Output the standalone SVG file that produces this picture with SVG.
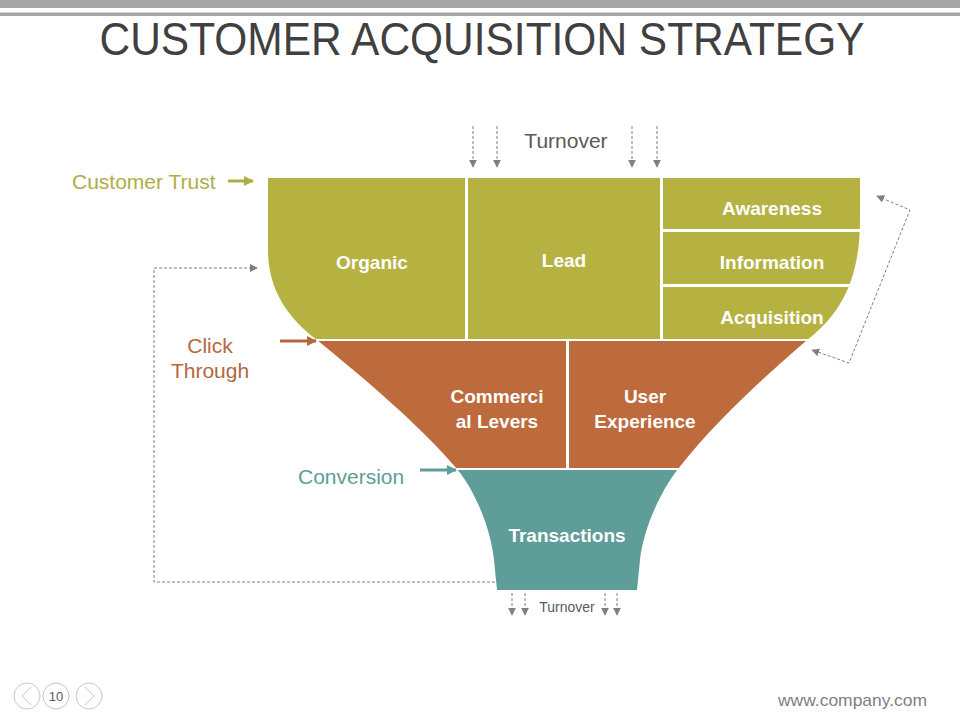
<svg xmlns="http://www.w3.org/2000/svg" width="960" height="720" viewBox="0 0 960 720">
<style>
.lbl{font-family:"Liberation Sans",Arial,sans-serif;font-size:19px;font-weight:bold;fill:#ffffff;text-anchor:middle}
.side{font-family:"Liberation Sans",Arial,sans-serif;font-size:21px}
.dash{fill:none;stroke:#7f7f7f;stroke-width:1;stroke-dasharray:3,2}
.green{fill:#b5b241}
.orange{fill:#bd6a3c}
.teal{fill:#5f9d98}
</style>
<defs>
<clipPath id="funnel">
<path d="M268,178 H860 V220 C860,280 840,315 807,340 C775,368 720,415 678,469 C660,492 643,530 640,560 L637,590 H497 L494,560 C491,530 476,492 457,469 C420,425 360,375 317,340 C288,318 268,290 268,250 Z"/>
</clipPath>
<marker id="ag" viewBox="0 0 10 10" refX="9" refY="5" markerWidth="8" markerHeight="8" markerUnits="userSpaceOnUse" orient="auto-start-reverse"><path d="M0,0 L10,5 L0,10 Z" fill="#7f7f7f"/></marker>
<marker id="agr" viewBox="0 0 10 10" refX="9" refY="5" markerWidth="10" markerHeight="10" markerUnits="userSpaceOnUse" orient="auto"><path d="M0,0 L10,5 L0,10 Z" fill="#b0ad45"/></marker>
<marker id="aor" viewBox="0 0 10 10" refX="9" refY="5" markerWidth="10" markerHeight="10" markerUnits="userSpaceOnUse" orient="auto"><path d="M0,0 L10,5 L0,10 Z" fill="#b5673e"/></marker>
<marker id="ate" viewBox="0 0 10 10" refX="9" refY="5" markerWidth="10" markerHeight="10" markerUnits="userSpaceOnUse" orient="auto"><path d="M0,0 L10,5 L0,10 Z" fill="#5f9d98"/></marker>
</defs>
<rect width="960" height="720" fill="#ffffff"/>
<g id="header">
<rect x="0" y="0" width="960" height="8" fill="#a6a6a6"/>
<rect x="0" y="12.5" width="960" height="3.5" fill="#a6a6a6"/>
<text x="482" y="55" font-family="'Liberation Sans Narrow','Liberation Sans',Arial,sans-serif" font-size="46" fill="#404040" text-anchor="middle" textLength="765" lengthAdjust="spacingAndGlyphs">CUSTOMER ACQUISITION STRATEGY</text>
</g>
<g id="organic" clip-path="url(#funnel)"><rect class="green" x="260" y="178" width="205" height="161"/><text class="lbl" x="372" y="269">Organic</text></g>
<g id="lead" clip-path="url(#funnel)"><rect class="green" x="468" y="178" width="192" height="161"/><text class="lbl" x="564" y="267">Lead</text></g>
<g id="awareness" clip-path="url(#funnel)"><rect class="green" x="663" y="178" width="205" height="51"/><text class="lbl" x="772" y="215">Awareness</text></g>
<g id="information" clip-path="url(#funnel)"><rect class="green" x="663" y="232" width="205" height="52"/><text class="lbl" x="772" y="269">Information</text></g>
<g id="acquisition" clip-path="url(#funnel)"><rect class="green" x="663" y="287" width="205" height="52"/><text class="lbl" x="772" y="324">Acquisition</text></g>
<g id="commercial-levers" clip-path="url(#funnel)"><rect class="orange" x="300" y="341" width="266" height="127"/><text class="lbl" x="497" y="403">Commerci</text><text class="lbl" x="497" y="428">al Levers</text></g>
<g id="user-experience" clip-path="url(#funnel)"><rect class="orange" x="569" y="341" width="250" height="127"/><text class="lbl" x="645" y="403">User</text><text class="lbl" x="645" y="428">Experience</text></g>
<g id="transactions" clip-path="url(#funnel)"><rect class="teal" x="440" y="470" width="260" height="120"/><text class="lbl" x="567" y="542">Transactions</text></g>
<g id="labels">
<text class="side" x="72" y="189" fill="#b0ad45">Customer Trust</text>
<text class="side" x="210" y="353" fill="#b5673e" text-anchor="middle">Click</text>
<text class="side" x="210" y="378" fill="#b5673e" text-anchor="middle">Through</text>
<text class="side" x="298" y="484" fill="#5f9d98">Conversion</text>
<text class="side" x="566" y="148" fill="#595959" text-anchor="middle">Turnover</text>
<text x="567" y="612" font-family="'Liberation Sans',Arial,sans-serif" font-size="14" fill="#595959" text-anchor="middle">Turnover</text>
</g>
<g id="connectors">
<line x1="228" y1="181" x2="253" y2="181" stroke="#b0ad45" stroke-width="3" marker-end="url(#agr)"/>
<line x1="280" y1="341" x2="316" y2="341" stroke="#b5673e" stroke-width="3" marker-end="url(#aor)"/>
<line x1="420" y1="470" x2="456" y2="470" stroke="#5f9d98" stroke-width="3" marker-end="url(#ate)"/>
<line class="dash" x1="473" y1="126" x2="473" y2="167" marker-end="url(#ag)"/>
<line class="dash" x1="497" y1="126" x2="497" y2="167" marker-end="url(#ag)"/>
<line class="dash" x1="632" y1="126" x2="632" y2="167" marker-end="url(#ag)"/>
<line class="dash" x1="657" y1="126" x2="657" y2="167" marker-end="url(#ag)"/>
<line class="dash" x1="512" y1="593" x2="512" y2="615" marker-end="url(#ag)"/>
<line class="dash" x1="525" y1="593" x2="525" y2="615" marker-end="url(#ag)"/>
<line class="dash" x1="605" y1="593" x2="605" y2="615" marker-end="url(#ag)"/>
<line class="dash" x1="617" y1="593" x2="617" y2="615" marker-end="url(#ag)"/>
<path class="dash" d="M495,582 H154 V268 H257" marker-end="url(#ag)"/>
<path class="dash" d="M877,196 L910,210 L849,363 L812,350" marker-start="url(#ag)" marker-end="url(#ag)"/>
</g>
<g id="footer">
<circle cx="27" cy="696" r="13" fill="none" stroke="#c8c8c8" stroke-width="1"/>
<circle cx="56" cy="696" r="13" fill="none" stroke="#c8c8c8" stroke-width="1"/>
<circle cx="89" cy="696" r="13" fill="none" stroke="#c8c8c8" stroke-width="1"/>
<path d="M31,687 L22,696 L31,705" fill="none" stroke="#c8c8c8" stroke-width="1"/>
<path d="M85,687 L94,696 L85,705" fill="none" stroke="#c8c8c8" stroke-width="1"/>
<text x="56" y="701" font-family="'Liberation Sans',Arial,sans-serif" font-size="13" fill="#595959" text-anchor="middle">10</text>
<text x="927" y="706" font-family="'Liberation Sans',Arial,sans-serif" font-size="17" fill="#7f7f7f" text-anchor="end" textLength="149" lengthAdjust="spacingAndGlyphs">www.company.com</text>
</g>
</svg>
